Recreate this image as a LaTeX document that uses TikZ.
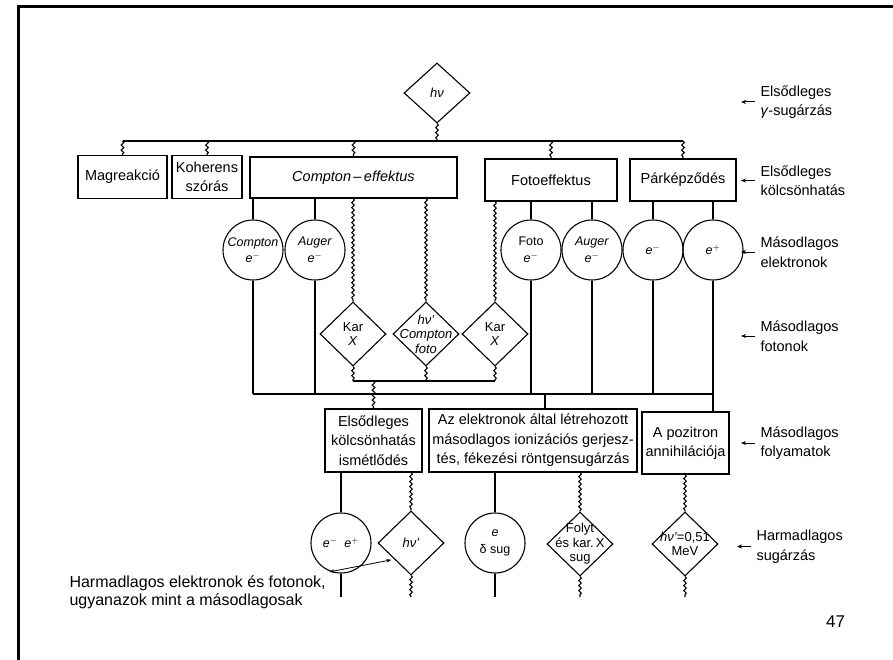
\documentclass[tikz,border=0pt]{standalone}
\usepackage{fontspec}
\setmainfont{Liberation Sans}
\usetikzlibrary{shapes.geometric,decorations.pathmorphing,arrows.meta}

\tikzstyle{process}=[draw, line width=1.1pt, rectangle, inner sep=0pt, align=center, font=\fontsize{14.5}{19.5}\selectfont]
\tikzstyle{electron}=[draw, line width=1.1pt, circle, minimum size=60pt, inner sep=-5pt, align=center, font=\fontsize{12.5}{16.5}\selectfont]
\tikzstyle{photon}=[draw, line width=1.1pt, diamond, minimum width=66pt, minimum height=64pt, inner sep=-14pt, align=center, font=\fontsize{13}{14.5}\selectfont]
\tikzstyle{plain edge}=[draw, line width=1.1pt, -]
\tikzstyle{wavy edge}=[draw, line width=1.1pt, -, decorate, decoration={snake, amplitude=1.3pt, segment length=5pt}]
\tikzstyle{lvl text}=[anchor=west, align=left, font=\fontsize{14.5}{19.5}\selectfont]
\tikzstyle{pointer}=[draw, line width=1pt, -{Stealth[length=5pt, width=4pt]}, shorten <=2pt]

\begin{document}
\begin{tikzpicture}[x=1pt, y=-1pt]
	\useasboundingbox (0,0) rectangle (893,660);
	\draw[line width=3pt] (18,660) -- (18,6.5) -- (893,6.5);

	% primary photon and interactions
	\node[photon, minimum height=60pt] (hv) at (437,93) {\textit{hν}};
	\foreach \pos/\name/\w/\h/\txt in {{(122.5,177)/mag/89/43/Magreakció}, {(207,177)/koh/70/43/{Koherens\\szórás}}, {(353.5,177.5)/comp/207/41/{\textit{Compton\,–\,effektus}}}, {(551,180)/foto/132/42/Fotoeffektus}, {(683,180)/par/106/42/Párképződés}}
		\node[process, minimum width=\w, minimum height=\h] (\name) at \pos {\txt};

	% secondary electrons and photons
	\foreach \pos/\name/\txt in {{(253,250)/ce/{\textit{Compton}\\\textit{e}$^-$}}, {(315,250)/ae/{\textit{Auger}\\\textit{e}$^-$}}, {(531,250)/fe/{Foto\\\textit{e}$^-$}}, {(592,250)/ag/{\textit{Auger}\\\textit{e}$^-$}}, {(653,250)/pe/{\textit{e}$^-$}}, {(713,250)/pp/{\textit{e}$^+$}}}
		\node[electron] (\name) at \pos {\txt};
	\foreach \pos/\name/\txt in {{(353,334)/kx1/{Kar\\\textit{X}}}, {(426,334)/hvc/{\textit{hν'}\\\textit{Compton}\\\textit{foto}}}, {(495,334)/kx2/{Kar\\\textit{X}}}}
		\node[photon] (\name) at \pos {\txt};

	% secondary processes
	\foreach \pos/\name/\w/\h/\txt in {{(373.5,440.5)/rep/97/63/{Elsődleges\\kölcsönhatás\\ismétlődés}}, {(533,440.5)/elec/208/63/{Az elektronok által létrehozott\\másodlagos ionizációs gerjesz-\\tés, fékezési röntgensugárzás}}, {(685.5,443)/pos/87/62/{A pozitron\\annihilációja}}}
		\node[process, minimum width=\w, minimum height=\h] (\name) at \pos {\txt};

	% tertiary radiation
	\foreach \pos/\name/\txt in {{(341,543)/ee/{\textit{e}$^-$\ \ \textit{e}$^+$}}, {(495,543)/ed/{\textit{e}\\δ sug}}}
		\node[electron] (\name) at \pos {\txt};
	\foreach \pos/\name/\txt in {{(411,543)/hvt/{\textit{hν'}}}, {(580,544)/fk/{Folyt\\és kar.\,X\\sug}}, {(685,544)/mev/{\textit{hν'}=0,51\\MeV}}}
		\node[photon] (\name) at \pos {\txt};

	% primary bus
	\coordinate (gbus) at (0,141);
	\path[wavy edge] (hv.south) -- (hv.south |- gbus);
	\path[plain edge] (mag.north |- gbus) -- (par.north |- gbus);
	\foreach \dest in {mag, koh, comp, foto, par}
		\path[wavy edge] (\dest.north |- gbus) -- (\dest.north);

	% interactions to secondary particles
	\foreach \source/\dest in {comp/ce, comp/ae, foto/fe, foto/ag, par/pe, par/pp}
		\path[plain edge] (\dest.north |- \source.south) -- (\dest.north);
	\foreach \source/\dest in {comp/kx1, comp/hvc, foto/kx2}
		\path[wavy edge] (\dest.north |- \source.south) -- (\dest.north);

	% photons collected
	\coordinate (pbus) at (0,381);
	\foreach \dest in {kx1, hvc, kx2}
		\path[wavy edge] (\dest.south) -- (\dest.south |- pbus);
	\path[plain edge] (kx1.south |- pbus) -- (kx2.south |- pbus);
	\path[wavy edge] (rep.north |- pbus) -- (rep.north);

	% electrons collected
	\coordinate (ebus) at (0,394);
	\coordinate (ejoin) at (545,394);
	\foreach \dest in {ce, ae, fe, ag, pe}
		\path[plain edge] (\dest.south) -- (\dest.south |- ebus);
	\path[plain edge] (ce.south |- ebus) -- (pp.south |- ebus);
	\path[plain edge] (pp.south) -- (pp.south |- pos.north);
	\path[plain edge] (ejoin) -- (ejoin |- elec.north);

	% processes to tertiary
	\foreach \source/\dest in {rep/ee, elec/ed}
		\path[plain edge] (\dest.north |- \source.south) -- (\dest.north);
	\foreach \source/\dest in {rep/hvt, elec/fk, pos/mev}
		\path[wavy edge] (\dest.north |- \source.south) -- (\dest.north);
	\coordinate (tail) at (0,597);
	\foreach \dest in {ee, ed}
		\path[plain edge] (\dest.south) -- (\dest.south |- tail);
	\foreach \dest in {hvt, fk, mev}
		\path[wavy edge] (\dest.south) -- (\dest.south |- tail);

	% level labels
	\foreach \pos/\name/\txt in {{(757,102)/lgam/{Elsődleges\\\textit{γ}-sugárzás}}, {(757,180.5)/lkol/{Elsődleges\\kölcsönhatás}}, {(757,252)/lel/{Másodlagos\\elektronok}}, {(757,336)/lfot/{Másodlagos\\fotonok}}, {(757,443)/lfoly/{Másodlagos\\folyamatok}}, {(753,546.5)/lharm/{Harmadlagos\\sugárzás}}}
		\node[lvl text] (\name) at \pos {\txt};
	\foreach \name in {lgam, lkol, lel, lfot, lfoly, lharm}
		\path[pointer] (\name.west) -- ++(-16,0);

	% note
	\node[anchor=west, align=left, font=\fontsize{16}{18}\selectfont] (note) at (66,592) {Harmadlagos elektronok és fotonok,\\ugyanazok mint a másodlagosak};
	\path[draw, line width=0.8pt, {Stealth[length=5pt, width=3.5pt]}-{Stealth[length=5pt, width=3.5pt]}, shorten >=3pt] (note.north east) -- (hvt.south west);

	\node[font=\fontsize{17}{17}\selectfont] (page) at (835.5,622) {47};
\end{tikzpicture}
\end{document}
